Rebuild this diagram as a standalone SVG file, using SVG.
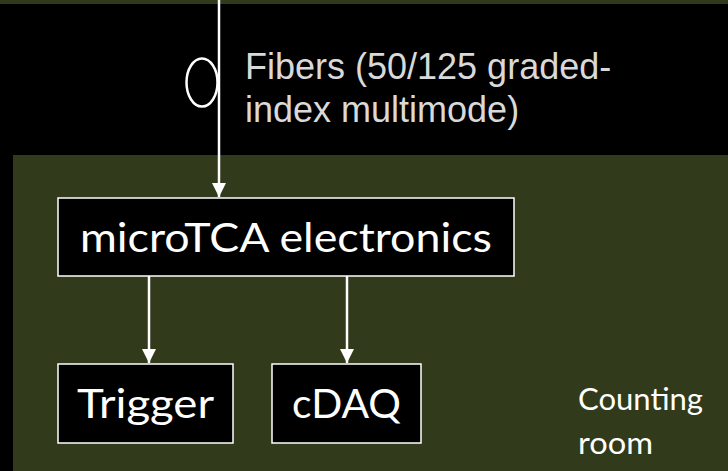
<svg xmlns="http://www.w3.org/2000/svg" width="728" height="471" viewBox="0 0 728 471">
<style>
.bg{fill:#000}
.green{fill:#313a1b}
.box{fill:#000;stroke:#fff;stroke-width:1.5}
.lbl{font-family:Lato,"Open Sans",sans-serif;fill:#fff}
.big{font-size:41px}
.fib{font-family:"Liberation Sans",Arial,sans-serif;fill:#d9d9d9;font-size:36px}
.conn{stroke:#fff;stroke-width:2.5;fill:none}
</style>
<defs>
<marker id="ah" markerUnits="userSpaceOnUse" markerWidth="16" markerHeight="16" refX="14" refY="7" orient="auto">
<path d="M0,0 L14,7 L0,14 z" fill="#fff"/>
</marker>
</defs>
<rect class="bg" x="0" y="0" width="728" height="471"/>
<rect class="green" x="0" y="0" width="728" height="4"/>
<rect class="green" x="13" y="155" width="715" height="316"/>
<g id="connectors">
<line class="conn" x1="219" y1="0" x2="219" y2="197" marker-end="url(#ah)"/>
<ellipse class="conn" cx="202" cy="82.5" rx="15.5" ry="24"/>
<line class="conn" x1="149" y1="276" x2="149" y2="363" marker-end="url(#ah)"/>
<line class="conn" x1="347" y1="276" x2="347" y2="363" marker-end="url(#ah)"/>
</g>
<g id="fibers-label">
<text class="fib" x="245" y="79">Fibers (50/125 graded-</text>
<text class="fib" x="245" y="122">index multimode)</text>
</g>
<g id="microtca">
<rect class="box" x="58" y="198" width="456" height="78"/>
<text class="lbl big" x="80" y="252" textLength="412" lengthAdjust="spacingAndGlyphs">microTCA electronics</text>
</g>
<g id="trigger">
<rect class="box" x="58" y="364" width="175" height="79"/>
<text class="lbl big" x="77" y="418" textLength="137" lengthAdjust="spacingAndGlyphs">Trigger</text>
</g>
<g id="cdaq">
<rect class="box" x="272" y="364" width="149" height="79"/>
<text class="lbl big" x="292" y="418" textLength="109" lengthAdjust="spacingAndGlyphs">cDAQ</text>
</g>
<g id="counting-room">
<text class="lbl" x="578" y="410" font-size="30" textLength="125" lengthAdjust="spacingAndGlyphs">Counting</text>
<text class="lbl" x="578" y="454" font-size="30" textLength="75" lengthAdjust="spacingAndGlyphs">room</text>
</g>
</svg>
